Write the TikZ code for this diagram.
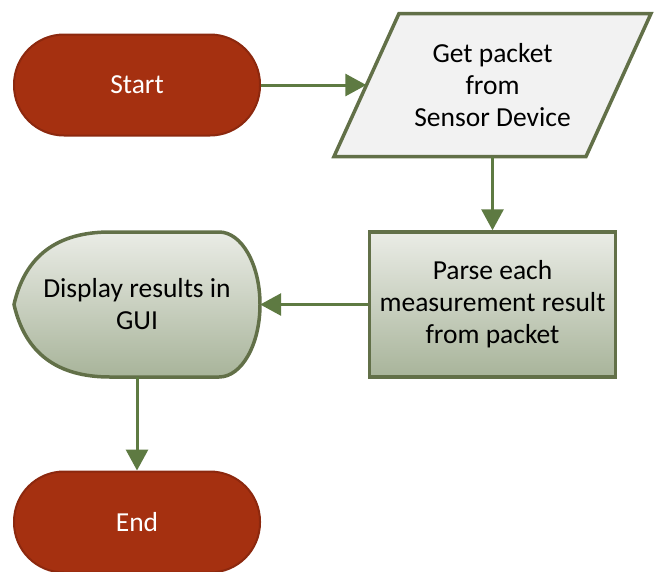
\documentclass[tikz,border=0pt]{standalone}
\usepackage{fontspec}
\setmainfont{Carlito}
\usetikzlibrary{arrows.meta}

\definecolor{termred}{RGB}{165,48,16}
\definecolor{termedge}{RGB}{140,40,14}
\definecolor{boxedge}{RGB}{98,112,72}
\definecolor{flowgreen}{RGB}{94,122,66}
\definecolor{sagetop}{RGB}{234,236,230}
\definecolor{sagebottom}{RGB}{168,180,154}

\tikzset{
  every node/.style={font=\fontsize{27.5}{32}\selectfont, align=center, inner sep=0pt},
  terminal/.style={draw=termedge, line width=2pt, fill=termred, text=white,
    minimum width=246pt, minimum height=101pt, rounded corners=50pt},
  iobox/.style={draw=boxedge, line width=3.5pt, fill=black!5},
  procbox/.style={draw=boxedge, line width=3.5pt, top color=sagetop, bottom color=sagebottom,
    minimum width=246pt, minimum height=145pt},
  dispbox/.style={draw=boxedge, line width=3.5pt, top color=sagetop, bottom color=sagebottom},
  flow/.style={draw=flowgreen, line width=3pt, -{Triangle[length=21pt, width=22pt]}}
}

\begin{document}
\begin{tikzpicture}[x=1pt, y=-1pt]
\useasboundingbox (0,0) rectangle (655,571);

\node[terminal] (start) at (137,85) {Start};

\draw[iobox] (334,156.5) -- (399,13.5) -- (651,13.5) -- (586,156.5) -- cycle;
\node[minimum width=252pt, minimum height=143pt] (get) at (492.5,85) {Get packet\\from\\Sensor Device};

\node[procbox] (parse) at (492.5,304.5) {Parse each\\measurement result\\from packet};

\draw[dispbox] (14,304.5) .. controls (25,256) and (57,232) .. (110,232)
  -- (219,232) arc[start angle=-90, end angle=90, x radius=41, y radius=72.5]
  -- (110,377) .. controls (57,377) and (25,353) .. cycle;
\node[minimum width=246pt, minimum height=145pt] (disp) at (137,304.5) {Display results in\\GUI};

\node[terminal] (end) at (137,522) {End};

\draw[flow] (start) -- (get);
\draw[flow] (get) -- (parse);
\draw[flow] (parse) -- (disp);
\draw[flow] (disp) -- (end);
\end{tikzpicture}
\end{document}
